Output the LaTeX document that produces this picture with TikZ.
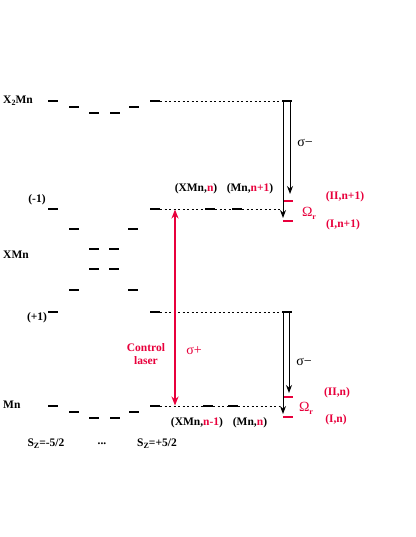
\documentclass[tikz,border=0pt]{standalone}
\usepackage{fontspec}
\setmainfont{Liberation Serif}
\usetikzlibrary{arrows.meta}
\definecolor{lred}{RGB}{232,0,60}
\newcommand{\sbs}[1]{\raisebox{-0.45ex}{\fontsize{8}{8}\selectfont #1}}
\begin{document}
\begin{tikzpicture}[x=1pt,y=-1pt,
  lev/.style={fill=black, minimum width=10pt, minimum height=2pt, inner sep=0pt, outer sep=0pt},
  rlev/.style={lev, fill=lred},
  dotl/.style={dash pattern=on 2pt off 2.5pt, line width=0.5pt},
  arr/.style={-{Stealth[length=8pt,width=6pt]}, line width=1pt},
  redarr/.style={{Stealth[length=9pt,width=7pt]}-{Stealth[length=9pt,width=7pt]}, line width=1.6pt, draw=lred},
  lbl/.style={font=\bfseries\fontsize{11.5}{13}\selectfont, inner sep=0pt},
  sym/.style={font=\fontsize{14}{15}\selectfont, inner sep=0pt}]
\useasboundingbox[fill=white] (0,0) rectangle (415,537);

% X2Mn levels
\node[lev] (a1) at (53,101) {};
\node[lev] (a2) at (74,107) {};
\node[lev] (a3) at (94,113) {};
\node[lev] (a4) at (115,113) {};
\node[lev] (a5) at (134,107) {};
\node[lev] (a6) at (155,101) {};
\node[lev] (ar) at (287,101) {};

% XMn levels
\node[lev] (b1) at (53,209) {};
\node[lev] (b6) at (155,209) {};
\node[lev] (b2) at (74,229) {};
\node[lev] (b5) at (133,229) {};
\node[lev] (b3) at (94,249) {};
\node[lev] (b4) at (114,249) {};
\node[lev] (c3) at (94,269) {};
\node[lev] (c4) at (114,269) {};
\node[lev] (c2) at (74,290) {};
\node[lev] (c5) at (133,290) {};
\node[lev] (c1) at (53,312) {};
\node[lev] (c6) at (155,312) {};
\node[lev] (cr) at (287,312) {};
\node[lev] (bx1) at (210,209) {};
\node[lev] (bx2) at (237,209) {};

% Mn levels
\node[lev] (d1) at (53,406) {};
\node[lev] (d2) at (74,412) {};
\node[lev] (d3) at (94,418) {};
\node[lev] (d4) at (115,418) {};
\node[lev] (d5) at (134,412) {};
\node[lev] (d6) at (155,406) {};
\node[lev] (dx1) at (208,406) {};
\node[lev] (dx2) at (233,406) {};

% red dressed levels
\node[rlev] (r1) at (288,201) {};
\node[rlev] (r2) at (288,221) {};
\node[rlev] (r3) at (288,397) {};
\node[rlev] (r4) at (288,417) {};

\coordinate (e1) at (283,209);
\coordinate (e2) at (280,406);

% dotted guides
\draw[dotl] (a6.east) -- (ar.west);
\draw[dotl] (b6.east) -- (bx1.west);
\draw[dotl] (bx1.east) -- (bx2.west);
\draw[dotl] (bx2.east) -- (e1);
\draw[dotl] (c6.east) -- (cr.west);
\draw[dotl] (d6.east) -- (dx1.west);
\draw[dotl] (dx1.east) -- (dx2.west);
\draw[dotl] (dx2.east) -- (e2);

% arrows sigma-
\coordinate (t1) at (283,218);
\coordinate (t2) at (290,194);
\coordinate (t3) at (283,414);
\coordinate (t4) at (289,393);
\draw[arr] ([xshift=1pt]ar.south west) -- (t1);
\draw[arr] ([xshift=-2pt]ar.south east) -- (t2);
\draw[arr] ([xshift=1pt]cr.south west) -- (t3);
\draw[arr] ([xshift=-3pt]cr.south east) -- (t4);

% control laser
\coordinate (u1) at (175,209.5);
\coordinate (u2) at (175,405.5);
\draw[redarr] (u1) -- (u2);

% labels
\node[lbl, anchor=west] (l1) at (3,101) {X\sbs{2}Mn};
\node[lbl, anchor=west] (l2) at (3,255) {XMn};
\node[lbl, anchor=west] (l3) at (3,405) {Mn};
\node[lbl] (l4) at (37,200) {(-1)};
\node[lbl] (l5) at (37,318) {(+1)};
\node[lbl] (l6) at (196,189) {(XMn,\textcolor{lred}{n})};
\node[lbl] (l7) at (250,189) {(Mn,\textcolor{lred}{n+1})};
\node[lbl] (l8) at (197,423) {(XMn,\textcolor{lred}{n-1})};
\node[lbl] (l9) at (250,423) {(Mn,\textcolor{lred}{n})};
\node[sym] (s1) at (305,143) {σ−};
\node[sym] (s2) at (304,362) {σ−};
\node[sym, text=lred] (s3) at (194,351) {σ+};
\node[sym, text=lred] (o1) at (309,213) {Ω\sbs{\bfseries r}};
\node[sym, text=lred] (o2) at (306,408) {Ω\sbs{\bfseries r}};
\node[lbl, text=lred] (m1) at (345,197) {(II,n+1)};
\node[lbl, text=lred] (m2) at (343,225) {(I,n+1)};
\node[lbl, text=lred] (m3) at (337,393) {(II,n)};
\node[lbl, text=lred] (m4) at (336,420) {(I,n)};
\node[lbl, text=lred, align=center] (cl) at (146,354) {Control\\laser};
\node[lbl] (z1) at (46,444) {S\sbs{Z}=-5/2};
\node[lbl] (z2) at (102,444) {...};
\node[lbl] (z3) at (157,444) {S\sbs{Z}=+5/2};
\end{tikzpicture}
\end{document}
